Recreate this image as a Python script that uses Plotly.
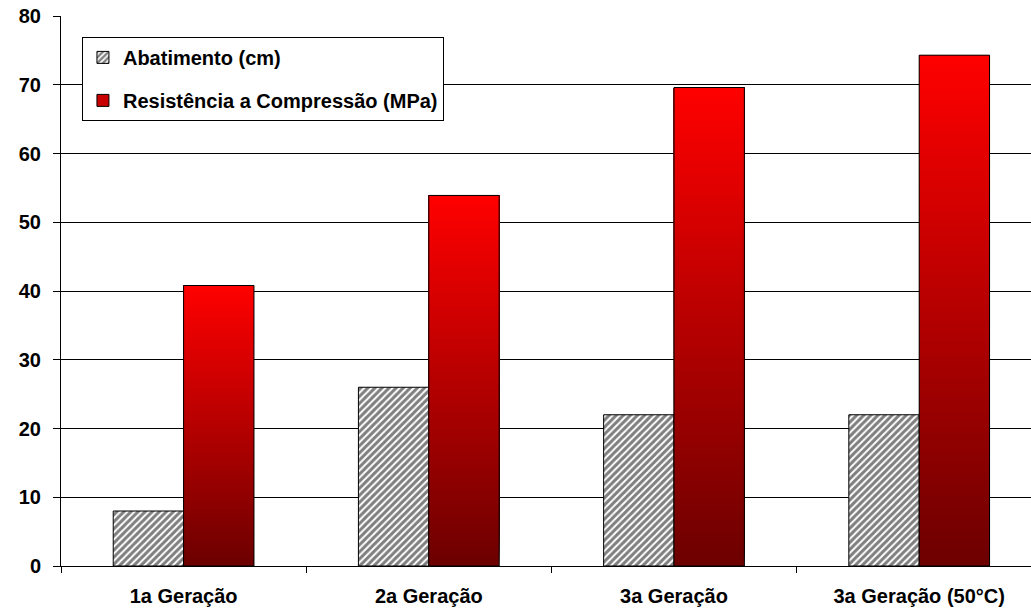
import plotly.graph_objects as go

categories = ["1a Geração", "2a Geração", "3a Geração", "3a Geração (50°C)"]
abatimento = [8, 26, 22, 22]
resistencia = [40.8, 53.9, 69.6, 74.3]
y_ticks = [0, 10, 20, 30, 40, 50, 60, 70, 80]

FONT = "Arial, Liberation Sans, sans-serif"
N_SEG = 120
top_rgb = (255, 0, 0)
bot_rgb = (108, 0, 0)

fig = go.Figure()

fig.add_trace(go.Bar(
    x=categories, y=abatimento, name="Abatimento (cm)",
    offsetgroup="a", legendrank=1, legendgroup="a",
    marker=dict(color="white",
                line=dict(color="black", width=1),
                pattern=dict(shape="/", fgcolor="#000000", bgcolor="white",
                             size=5, solidity=0.6)),
))

# gradient-filled red bars: each slice spans from its start up to the bar top,
# later (higher) slices drawn over earlier ones so there are no seams
for i in range(N_SEG):
    t = (i + 0.5) / N_SEG  # 0 at bottom, 1 at top
    r = round(bot_rgb[0] + (top_rgb[0] - bot_rgb[0]) * t)
    col = f"rgb({r},0,0)"
    fig.add_trace(go.Bar(
        x=categories,
        y=[v * (1 - i / N_SEG) for v in resistencia],
        base=[v * i / N_SEG for v in resistencia],
        offsetgroup="b", showlegend=False, hoverinfo="skip",
        marker=dict(color=col, line=dict(width=0)),
    ))

# outline of the red bars
fig.add_trace(go.Bar(
    x=categories, y=resistencia, name="Resistência a Compressão (MPa)",
    offsetgroup="b", showlegend=False,
    marker=dict(color="rgba(0,0,0,0)", line=dict(color="black", width=1)),
))

# legend entry for red series
fig.add_trace(go.Bar(
    x=categories, y=[None] * len(categories), name="Resistência a Compressão (MPa)",
    offsetgroup="b", legendrank=2, legendgroup="b",
    marker=dict(color="rgb(200,0,0)", line=dict(color="black", width=1)),
))

fig.update_layout(
    width=1031, height=609,
    margin=dict(l=61, r=0, t=16, b=43, autoexpand=False),
    paper_bgcolor="white", plot_bgcolor="white",
    barmode="group", bargap=0.426, bargroupgap=0,
    font=dict(family=FONT, size=20, color="black"),
    showlegend=True,
    legend=dict(x=0.0216, y=0.962, xanchor="left", yanchor="top",
                bgcolor="white", bordercolor="black", borderwidth=1,
                font=dict(family=FONT, size=20, color="black", weight="bold"),
                traceorder="grouped", tracegroupgap=14,
                itemwidth=30),
)
fig.update_xaxes(
    type="category", range=[-0.5, 3.456], automargin=False,
    showline=True, linecolor="black", linewidth=1,
    ticks="outside", tickson="boundaries", ticklen=6, tickcolor="black",
    tickfont=dict(family=FONT, size=20, color="black", weight="bold"),
    ticklabelstandoff=12,
    showgrid=False,
)
fig.update_yaxes(
    range=[0, 80], tickvals=y_ticks, automargin=False,
    showline=True, linecolor="black", linewidth=1,
    ticks="outside", ticklen=7, tickcolor="black",
    showgrid=True, gridcolor="black", gridwidth=1,
    zeroline=False,
    ticklabeloverflow="allow", ticklabelstandoff=8,
    tickfont=dict(family=FONT, size=20, color="black", weight="bold"),
)

fig.write_html("out.html",
               config={"displayModeBar": False},
               post_script="document.body.style.margin='0';document.body.style.padding='0';")
